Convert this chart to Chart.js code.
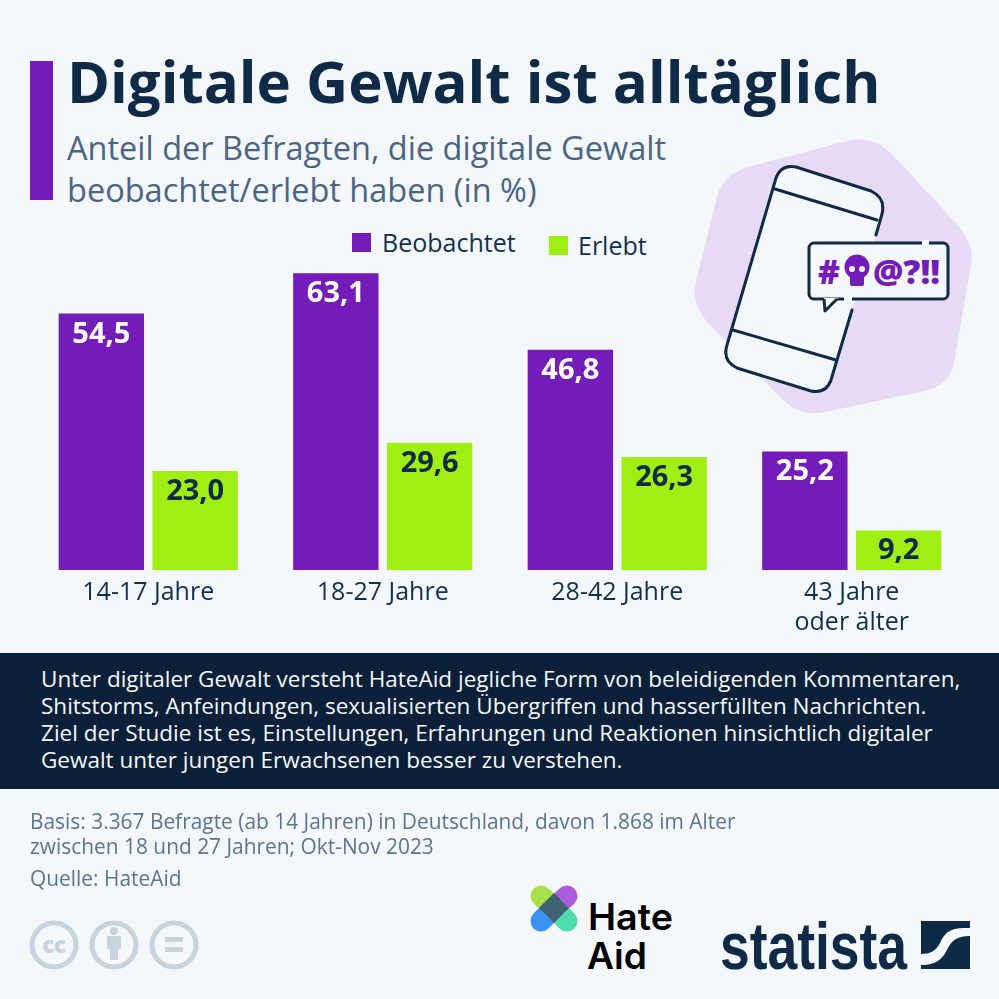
<!DOCTYPE html>
<html lang="de">
<head>
<meta charset="utf-8">
<title>Digitale Gewalt ist alltäglich</title>
<script src="https://cdn.jsdelivr.net/npm/chart.js"></script>
<style>
    html, body { margin: 0; padding: 0; background: #f4f8fc; }
    #page { position: relative; width: 999px; height: 999px; overflow: hidden; background: #f4f8fc; font-family: "Open Sans", sans-serif; }
    #page > * { position: absolute; }
    .line { white-space: nowrap; }
    #accent { left: 30px; top: 61px; width: 23px; height: 139px; background: #741cba; }
    #title { left: 67px; top: 45px; font-size: 58.2px; line-height: 72px; font-weight: 700; color: #0f2a47; }
    .sub { left: 67px; font-size: 32.5px; line-height: 40px; color: #4a6584; }
    .swatch { width: 19px; height: 19px; }
    .legend { font-size: 25px; line-height: 30px; color: #12304d; }
    #panel { left: 0; top: 653px; width: 999px; height: 136px; background: #0a2038; }
    .note { left: 41px; font-size: 22.5px; line-height: 27px; color: #f4f8fc; }
    .foot { left: 30px; font-size: 20.9px; line-height: 26px; color: #5b7590; }
    svg { left: 0; top: 0; }
    canvas { left: 0; top: 0; }
</style>
</head>
<body>
<div id="page">
    <svg width="999" height="999" viewBox="0 0 999 999">
        <!-- background blob -->
        <path d="M752,166 L843,142 Q872,133 893,155 L954,221 Q975,243 971,265 L954,363 Q950,385 925,391 L825,412 Q800,418 780,397 L710,325 Q690,305 696,281 L717,197 Q723,173 752,166 Z" fill="#e6daf5"/>
        <!-- phone -->
        <g fill="none" stroke="#0f2a47" stroke-width="3" stroke-linecap="round">
            <path d="M876,235 L882,214 Q886,198 871,191 L796,167 Q781,164 776,178 L727,345 Q722,361 737,368 L811,391 Q826,394 831,380 L852,310" fill="#f4f8fc"/>
            <path d="M775,189 L877,220"/>
            <path d="M733,330 L836,360"/>
        </g>
        <!-- speech bubble -->
        <rect x="809" y="243" width="139" height="56" rx="5" fill="#f4f8fc" stroke="#0f2a47" stroke-width="3"/>
        <path d="M824,298 L825,311 L838,298 Z" fill="#f4f8fc"/>
        <path d="M824,299 L825,311 L837,299" fill="none" stroke="#0f2a47" stroke-width="3" stroke-linejoin="round"/>
        <rect x="922" y="240" width="7" height="6" fill="#f4f8fc"/>
        <rect x="844" y="296" width="8" height="6" fill="#f4f8fc"/>
        <g fill="#741cba" font-family="Open Sans" font-weight="800">
            <text x="818" y="284" font-size="33">#</text>
            <circle cx="857" cy="267" r="12.5"/>
            <rect x="850" y="274" width="14" height="12" rx="2"/>
            <circle cx="852" cy="269" r="3" fill="#f4f8fc"/>
            <circle cx="862" cy="269" r="3" fill="#f4f8fc"/>
            <text x="873" y="284" font-size="33" textLength="67" lengthAdjust="spacingAndGlyphs">@?!!</text>
        </g>
        <!-- HateAid logo -->
        <g fill="none" stroke-width="21" stroke-linecap="round">
            <path d="M541,896 L554,908" stroke="#a7e049"/>
            <path d="M567,896 L554,908" stroke="#ab5be0"/>
            <path d="M541,921 L554,908" stroke="#3b93f7"/>
            <path d="M567,921 L554,908" stroke="#4fdcac"/>
        </g>
        <path d="M554,893 L569,908 L554,923 L539,908 Z" fill="#3f6373"/>
        <g font-family="Inter" font-weight="600" font-size="37" fill="#000">
            <text x="588" y="930" textLength="85" lengthAdjust="spacingAndGlyphs">Hate</text>
            <text x="587" y="969" textLength="60" lengthAdjust="spacingAndGlyphs">Aid</text>
        </g>
        <!-- statista logo -->
        <text x="720" y="969" font-family="Liberation Sans" font-weight="700" font-size="66" fill="#0f2a47" textLength="187" lengthAdjust="spacingAndGlyphs">statista</text>
        <rect x="921" y="921" width="49" height="48" fill="#0f2a47"/>
        <path d="M970,928 C950,927 945,932 940,943 C936,951 930,954 921,954 L921,965 C938,965 943,958 948,948 C952,940 958,936 970,936 Z" fill="#f4f8fc"/>
        <!-- cc icons -->
        <g fill="none" stroke="#c8d4dd" stroke-width="5">
            <circle cx="54" cy="945" r="22"/>
            <circle cx="114" cy="945" r="22"/>
            <circle cx="174" cy="945" r="22"/>
        </g>
        <text x="54" y="953" text-anchor="middle" font-family="Open Sans" font-weight="800" font-size="22" fill="#c8d4dd">cc</text>
        <g fill="#c8d4dd">
            <circle cx="114" cy="931" r="4"/>
            <rect x="107" y="936" width="14" height="13"/>
            <rect x="110" y="949" width="8" height="11"/>
            <rect x="165" y="937" width="18" height="5"/>
            <rect x="165" y="947" width="18" height="5"/>
        </g>
    </svg>

    <div id="accent"></div>
    <div id="title" class="line">Digitale Gewalt ist alltäglich</div>
    <div class="sub line" style="top:128px">Anteil der Befragten, die digitale Gewalt</div>
    <div class="sub line" style="top:170px">beobachtet/erlebt haben (in %)</div>

    <div class="swatch" style="left:352px;top:233px;background:#741cba"></div>
    <div class="legend line" style="left:382px;top:227px">Beobachtet</div>
    <div class="swatch" style="left:549px;top:236px;background:#9fee14"></div>
    <div class="legend line" style="left:578px;top:230px">Erlebt</div>

    <canvas id="chart" width="999" height="999" style="width:999px;height:999px"></canvas>

    <div id="panel"></div>
    <div class="note line" style="top:665px">Unter digitaler Gewalt versteht HateAid jegliche Form von beleidigenden Kommentaren,</div>
    <div class="note line" style="top:692px">Shitstorms, Anfeindungen, sexualisierten Übergriffen und hasserfüllten Nachrichten.</div>
    <div class="note line" style="top:719px">Ziel der Studie ist es, Einstellungen, Erfahrungen und Reaktionen hinsichtlich digitaler</div>
    <div class="note line" style="top:746px">Gewalt unter jungen Erwachsenen besser zu verstehen.</div>

    <div class="foot line" style="top:808px">Basis: 3.367 Befragte (ab 14 Jahren) in Deutschland, davon 1.868 im Alter</div>
    <div class="foot line" style="top:833px">zwischen 18 und 27 Jahren; Okt-Nov 2023</div>
    <div class="foot line" style="top:865px">Quelle: HateAid</div>
</div>

<script>
    const categories = ["14-17 Jahre", "18-27 Jahre", "28-42 Jahre", ["43 Jahre", "oder älter"]];
    const observed = [54.5, 63.1, 46.8, 25.2];
    const experienced = [23.0, 29.6, 26.3, 9.2];

    // value labels sit just inside the top of each bar
    const barLabels = {
        id: "barLabels",
        afterDatasetsDraw(chart) {
            let ctx = chart.ctx;
            ctx.save();
            ctx.font = "700 29px 'Open Sans'";
            ctx.textAlign = "center";
            ctx.textBaseline = "alphabetic";
            chart.data.datasets.forEach(function (dataset, i) {
                ctx.fillStyle = i === 0 ? "#ffffff" : "#0f2a47";
                chart.getDatasetMeta(i).data.forEach(function (bar, j) {
                    let text = dataset.data[j].toFixed(1).replace(".", ",");
                    ctx.fillText(text, bar.x, bar.y + 29);
                });
            });
            ctx.restore();
        }
    };

    new Chart(document.getElementById("chart").getContext("2d"), {
        type: "bar",
        data: {
            labels: categories,
            datasets: [
                { label: "Beobachtet", data: observed, backgroundColor: "#741cba", yAxisID: "y" },
                // the green bars are drawn to a slightly shorter scale in the original
                { label: "Erlebt", data: experienced, backgroundColor: "#9fee14", yAxisID: "y2" }
            ]
        },
        options: {
            animation: false,
            responsive: false,
            devicePixelRatio: 1,
            categoryPercentage: 0.8,
            barPercentage: 0.91,
            layout: { padding: { top: 220, left: 31, right: 30, bottom: 0 } },
            plugins: { legend: { display: false }, tooltip: { enabled: false } },
            scales: {
                x: {
                    grid: { display: false },
                    border: { display: false },
                    afterFit(scale) { scale.height = 429; },
                    ticks: {
                        color: "#12304d",
                        font: { family: "Open Sans", size: 25, lineHeight: 1.2 },
                        padding: 0,
                        maxRotation: 0,
                        autoSkip: false
                    }
                },
                y: { display: false, min: 0, max: 74.4 },
                y2: { display: false, min: 0, max: 81.4 }
            }
        },
        plugins: [barLabels]
    });
</script>
</body>
</html>
